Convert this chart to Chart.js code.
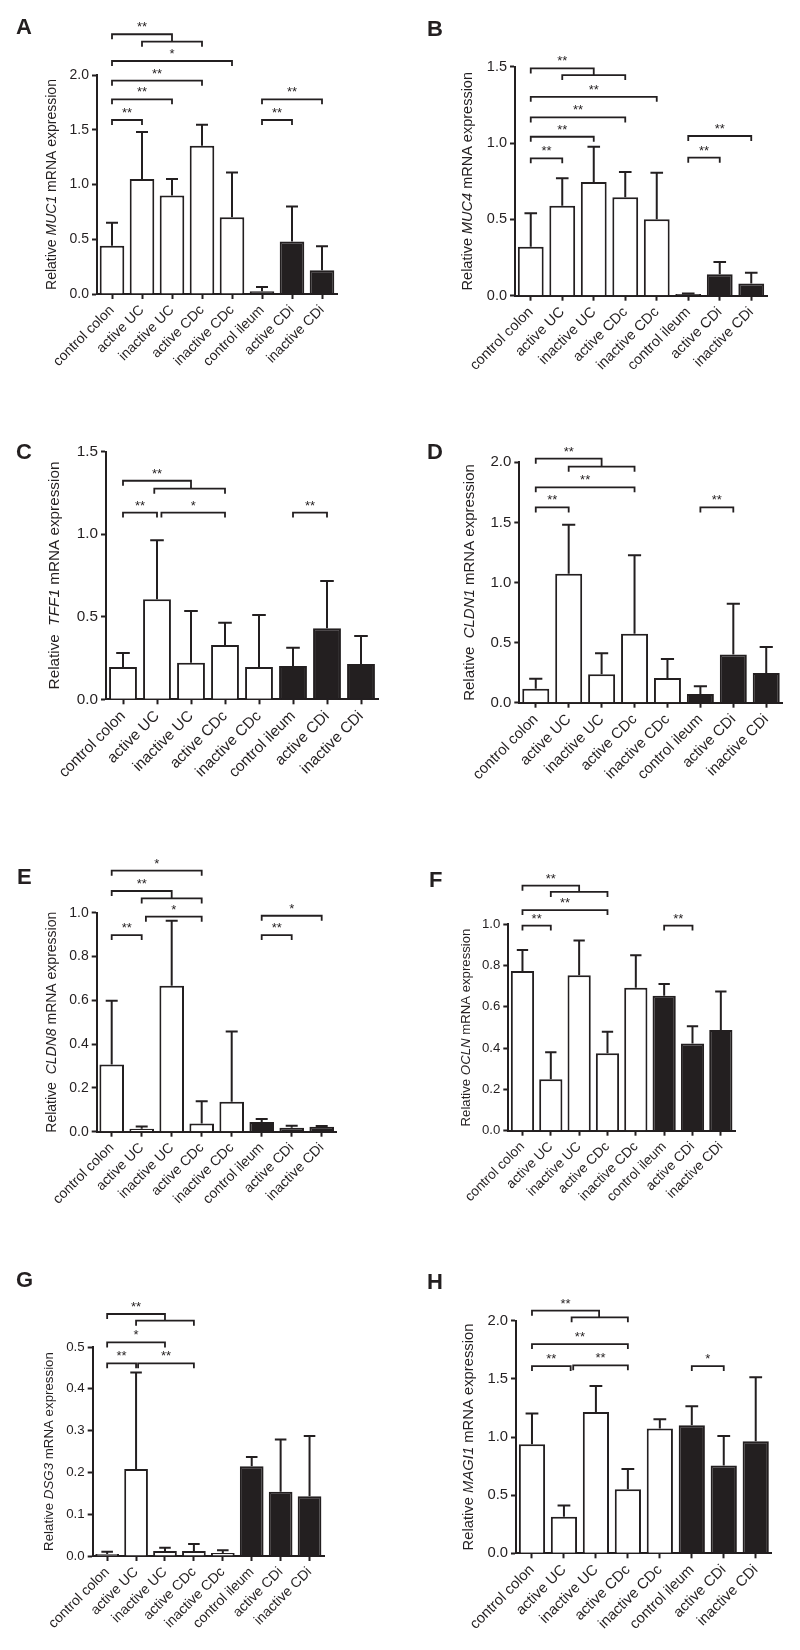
<!DOCTYPE html>
<html>
<head>
<meta charset="utf-8">
<script src="https://cdn.jsdelivr.net/npm/chart.js@4.4.0/dist/chart.umd.min.js"></script>
<style>
    body { margin: 0; background: #fff; }
    #fig { position: relative; width: 800px; height: 1650px; }
    #fig canvas { position: absolute; }
    .letra { position: absolute; font: bold 22px "Liberation Sans", Arial, sans-serif; color: #231f20; line-height: 22px; }
</style>
</head>
<body>
<div id="fig"></div>
<script>
const categories = ['control colon', 'active UC', 'inactive UC', 'active CDc', 'inactive CDc', 'control ileum', 'active CDi', 'inactive CDi'];
const ileum = [false, false, false, false, false, true, true, true]; // barras pretas

// media e desvio (so a parte de cima) de cada gene
const muc1Mean = [0.44, 1.05, 0.90, 1.355, 0.70, 0.024, 0.48, 0.216];
const muc1Sd = [0.21, 0.43, 0.15, 0.19, 0.41, 0.04, 0.32, 0.22];
const muc4Mean = [0.32, 0.59, 0.745, 0.645, 0.50, 0.011, 0.14, 0.08];
const muc4Sd = [0.22, 0.18, 0.23, 0.165, 0.305, 0.004, 0.08, 0.07];
const tff1Mean = [0.196, 0.606, 0.222, 0.329, 0.196, 0.202, 0.430, 0.214];
const tff1Sd = [0.085, 0.357, 0.313, 0.135, 0.315, 0.111, 0.287, 0.17];
const cldn1Mean = [0.117, 1.073, 0.236, 0.574, 0.205, 0.072, 0.402, 0.247];
const cldn1Sd = [0.083, 0.408, 0.175, 0.652, 0.158, 0.064, 0.422, 0.216];
const cldn8Mean = [0.307, 0.014, 0.667, 0.038, 0.137, 0.044, 0.018, 0.023];
const cldn8Sd = [0.291, 0.010, 0.296, 0.101, 0.32, 0.014, 0.009, 0.003];
const oclnMean = [0.774, 0.249, 0.753, 0.375, 0.693, 0.654, 0.422, 0.488];
const oclnSd = [0.102, 0.131, 0.169, 0.105, 0.157, 0.057, 0.084, 0.187];
const dsg3Mean = [0.005, 0.208, 0.012, 0.012, 0.007, 0.215, 0.154, 0.143];
const dsg3Sd = [0.005, 0.231, 0.008, 0.017, 0.007, 0.022, 0.125, 0.144];
const magi1Mean = [0.937, 0.315, 1.215, 0.550, 1.074, 1.100, 0.756, 0.963];
const magi1Sd = [0.266, 0.095, 0.223, 0.175, 0.078, 0.164, 0.253, 0.55];

// significancia: [de, ate, altura, texto, desce ate]
const muc1Sig = [[0, 2, 2.372, '**', 2.304], [1, 3, 2.304, ''], [0, 4, 2.128, '*'], [0, 3, 1.948, '**'], [0, 2, 1.778, '**'], [0, 1, 1.589, '**'], [5, 7, 1.778, '**'], [5, 6, 1.589, '**']];
const muc4Sig = [[0, 2, 1.489, '**', 1.445], [1, 3, 1.445, ''], [0, 4, 1.303, '**'], [0, 3, 1.168, '**'], [0, 2, 1.041, '**'], [0, 1, 0.900, '**'], [5, 7, 1.046, '**'], [5, 6, 0.904, '**']];
const tff1Sig = [[0, 2, 1.324, '**', 1.276], [0.92, 3, 1.276, ''], [0, 1, 1.131, '**'], [1.13, 3, 1.131, '*'], [5, 6, 1.131, '**']];
const cldn1Sig = [[0, 2, 2.030, '**', 1.964], [1, 3, 1.964, ''], [0, 3, 1.792, '**'], [0, 1, 1.625, '**'], [5, 6, 1.625, '**']];
const cldn8Sig = [[0, 3, 1.192, '*'], [0, 2, 1.099, '**', 1.065], [1, 3, 1.065, ''], [1.14, 3, 0.982, '*'], [0, 1, 0.898, '**'], [5, 7, 0.986, '*'], [5, 6, 0.898, '**']];
const oclnSig = [[0, 2, 1.187, '**', 1.157], [1, 3, 1.157, ''], [0, 3, 1.069, '**'], [0, 1, 0.994, '**'], [5, 6, 0.994, '**']];
const dsg3Sig = [[0, 2, 0.579, '**', 0.563], [1, 3, 0.563, ''], [0, 2, 0.511, '*'], [0, 1, 0.461, '**'], [1.07, 3, 0.461, '**']];
const magi1Sig = [[0, 2.1, 2.086, '**', 2.029], [1.24, 3, 2.029, ''], [0, 3, 1.799, '**'], [0, 1.21, 1.610, '**'], [1.29, 3, 1.616, '**'], [5, 6, 1.610, '*']];

const yMax = [2.0, 1.5, 1.5, 2.0, 1.0, 1.0, 0.5, 2.0];
const yStep = [0.5, 0.5, 0.5, 0.5, 0.2, 0.2, 0.1, 0.5];

const ink = '#231f20';
const fam = '"Liberation Sans", Arial, sans-serif';

// box = canvas [x, y, w, h]; area = area do grafico [esq, topo, dir, base]
const panels = [
    { letter: 'A', pos: [16, 16], gene: 'MUC1', pre: 'Relative ', mean: muc1Mean, sd: muc1Sd, sig: muc1Sig, box: [0, 0, 400, 410], area: [97, 75, 337, 294], font: 14, xfont: 14, gap: 45 },
    { letter: 'B', pos: [427, 18], gene: 'MUC4', pre: 'Relative ', mean: muc4Mean, sd: muc4Sd, sig: muc4Sig, box: [400, 0, 400, 410], area: [515, 66.7, 767, 295.7], font: 14.5, xfont: 14.5, gap: 47 },
    { letter: 'C', pos: [16, 441], gene: 'TFF1', pre: 'Relative  ', mean: tff1Mean, sd: tff1Sd, sig: tff1Sig, box: [0, 410, 400, 420], area: [106, 451.7, 378, 699.3], font: 15.3, xfont: 15.3, gap: 51 },
    { letter: 'D', pos: [427, 441], gene: 'CLDN1', pre: 'Relative  ', mean: cldn1Mean, sd: cldn1Sd, sig: cldn1Sig, box: [400, 410, 400, 420], area: [519.3, 462.3, 782.7, 702.7], font: 15, xfont: 15, gap: 49 },
    { letter: 'E', pos: [17, 866], gene: 'CLDN8', pre: 'Relative  ', mean: cldn8Mean, sd: cldn8Sd, sig: cldn8Sig, box: [0, 830, 400, 410], area: [96.7, 912.7, 336.7, 1131.7], font: 14, xfont: 14, gap: 45 },
    { letter: 'F', pos: [429, 869], gene: 'OCLN', pre: 'Relative ', mean: oclnMean, sd: oclnSd, sig: oclnSig, box: [400, 830, 400, 410], area: [508.3, 924.3, 735, 1130.7], font: 13.2, xfont: 13.7, gap: 42 },
    { letter: 'G', pos: [16, 1269], gene: 'DSG3', pre: 'Relative ', mean: dsg3Mean, sd: dsg3Sd, sig: dsg3Sig, box: [0, 1240, 400, 410], area: [92.7, 1347, 324, 1556], font: 13.3, xfont: 14, gap: 43 },
    { letter: 'H', pos: [427, 1271], gene: 'MAGI1', pre: 'Relative ', mean: magi1Mean, sd: magi1Sd, sig: magi1Sig, box: [400, 1240, 400, 410], area: [516, 1320.7, 771.7, 1553.3], font: 14.8, xfont: 14.8, gap: 47 }
];

// desenha barras de erro, colchetes e titulo do eixo y
const extras = {
    id: 'extras',
    afterDatasetsDraw(chart) {
        const p = chart.options.plugins.extras;
        const ctx = chart.ctx, xs = chart.scales.x, ys = chart.scales.y, a = chart.chartArea;
        const cw = xs.width / categories.length;
        ctx.save();
        ctx.strokeStyle = ink;
        ctx.fillStyle = ink;
        ctx.lineWidth = 2;
        // barras de erro
        p.mean.forEach((m, i) => {
            const x = xs.getPixelForValue(i);
            const y0 = ys.getPixelForValue(m), y1 = ys.getPixelForValue(m + p.sd[i]);
            ctx.beginPath();
            ctx.moveTo(x, y0);
            ctx.lineTo(x, y1);
            ctx.moveTo(x - cw * 0.2, y1);
            ctx.lineTo(x + cw * 0.2, y1);
            ctx.stroke();
        });
        // colchetes de significancia
        ctx.lineWidth = 1.8;
        ctx.font = '13px ' + fam;
        ctx.textAlign = 'center';
        ctx.textBaseline = 'alphabetic';
        p.sig.forEach(([from, to, h, txt, drop]) => {
            const x1 = xs.getPixelForValue(from), x2 = xs.getPixelForValue(to);
            const y = ys.getPixelForValue(h);
            const y2 = drop !== undefined ? ys.getPixelForValue(drop) : y + 5;
            ctx.beginPath();
            ctx.moveTo(x1, y + 5);
            ctx.lineTo(x1, y);
            ctx.lineTo(x2, y);
            ctx.lineTo(x2, y2);
            ctx.stroke();
            if (txt) ctx.fillText(txt, (x1 + x2) / 2, y - 3);
        });
        // titulo do eixo y com o gene em italico
        const parts = [[p.pre, ''], [p.gene, 'italic '], [' mRNA expression', '']];
        let total = 0;
        parts.forEach(pt => { ctx.font = pt[1] + p.font + 'px ' + fam; pt.push(ctx.measureText(pt[0]).width); total += pt[2]; });
        ctx.translate(a.left - p.gap, (a.top + a.bottom) / 2);
        ctx.rotate(-Math.PI / 2);
        ctx.textAlign = 'left';
        ctx.textBaseline = 'middle';
        let cx = -total / 2;
        parts.forEach(pt => { ctx.font = pt[1] + p.font + 'px ' + fam; ctx.fillText(pt[0], cx, 0); cx += pt[2]; });
        ctx.restore();
    }
};

const fig = document.getElementById('fig');

panels.forEach((p, k) => {
    const [bx, by, bw, bh] = p.box;
    const [L, T, R, B] = p.area;
    const cv = document.createElement('canvas');
    cv.width = bw; cv.height = bh;
    cv.style.left = bx + 'px'; cv.style.top = by + 'px';
    fig.appendChild(cv);

    const lt = document.createElement('div');
    lt.className = 'letra';
    lt.textContent = p.letter;
    lt.style.left = p.pos[0] + 'px'; lt.style.top = p.pos[1] + 'px';
    fig.appendChild(lt);

    new Chart(cv.getContext('2d'), {
        type: 'bar',
        data: {
            labels: categories,
            datasets: [{
                data: p.mean,
                backgroundColor: ileum.map(b => b ? ink : '#ffffff'),
                borderColor: ink,
                borderWidth: 2,
                borderSkipped: 'bottom',
                categoryPercentage: 1,
                barPercentage: 0.82
            }]
        },
        options: {
            responsive: false,
            animation: false,
            devicePixelRatio: 1,
            layout: { padding: { left: L - bx - 50, top: T - by, right: bx + bw - R, bottom: by + bh - B - 90 } },
            scales: {
                x: {
                    grid: { drawOnChartArea: false, offset: false, color: ink, tickLength: 5, tickWidth: 2 },
                    border: { color: ink, width: 2 },
                    ticks: { color: ink, font: { family: fam, size: p.xfont }, minRotation: 45, maxRotation: 45, autoSkip: false, padding: 3 },
                    afterFit: s => { s.height = 90; }
                },
                y: {
                    min: 0,
                    max: yMax[k],
                    grid: { drawOnChartArea: false, color: ink, tickLength: 5, tickWidth: 2 },
                    border: { color: ink, width: 2 },
                    ticks: { stepSize: yStep[k], color: ink, font: { family: fam, size: p.font }, padding: 3, callback: v => v.toFixed(1) },
                    afterFit: s => { s.width = 50; }
                }
            },
            plugins: {
                legend: { display: false },
                tooltip: { enabled: false },
                extras: { mean: p.mean, sd: p.sd, sig: p.sig, gene: p.gene, pre: p.pre, font: p.font, gap: p.gap }
            }
        },
        plugins: [extras]
    });
});
</script>
</body>
</html>
